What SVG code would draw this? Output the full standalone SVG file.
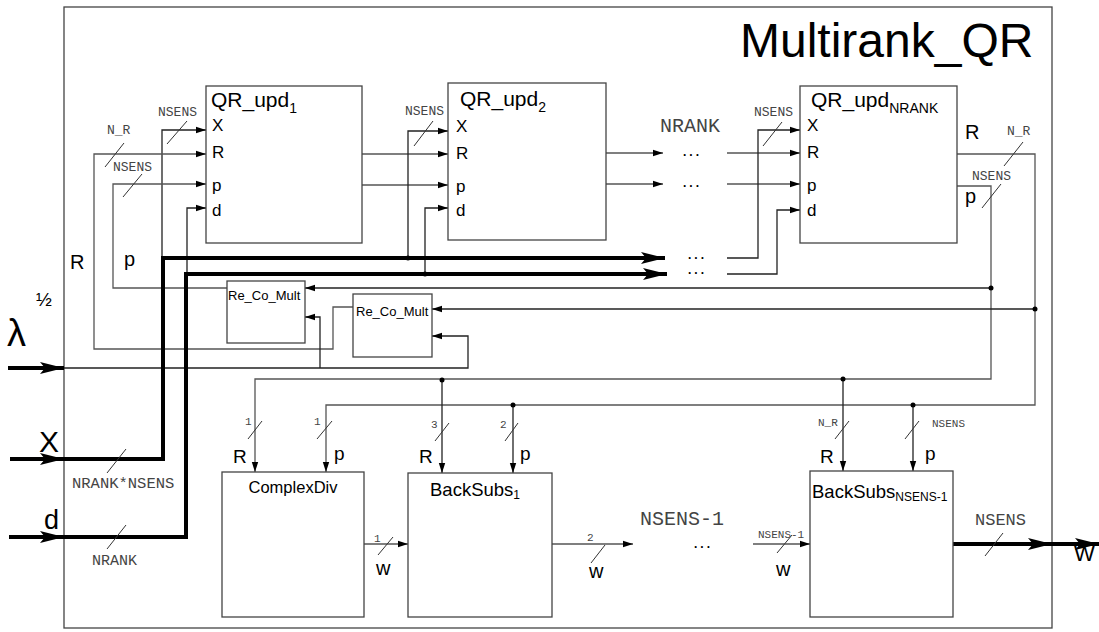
<svg xmlns="http://www.w3.org/2000/svg" width="1099" height="632" viewBox="0 0 1099 632">
<style>
.box{fill:#fff;stroke:#444;stroke-width:1.3}
.ln{fill:none;stroke:#222;stroke-width:1.3}
.lg{fill:none;stroke:#555;stroke-width:1.3}
.th{fill:none;stroke:#000;stroke-width:4}
.sl{fill:none;stroke:#333;stroke-width:1}
.s{font-family:"Liberation Sans",Arial,sans-serif;fill:#000}
.m{font-family:"Liberation Mono","Courier New",monospace;fill:#444}
.dd{font-family:"Liberation Sans",Arial,sans-serif;fill:#000;font-weight:bold;letter-spacing:3px}
.dot{fill:#000}
</style>
<defs>
<marker id="a" markerUnits="userSpaceOnUse" markerWidth="10" markerHeight="8" refX="10" refY="4" orient="auto"><path d="M0,0.8 L10,4 L0,7.2 z" fill="#000"/></marker>
<marker id="A" markerUnits="userSpaceOnUse" markerWidth="24" markerHeight="12" refX="24" refY="6" orient="auto"><path d="M0,0 L24,6 L0,12 L5,6 z" fill="#000"/></marker>
</defs>
<rect x="64" y="7" width="988" height="621" fill="#fff" stroke="#444" stroke-width="1.3"/>
<text class="s" x="740" y="57" font-size="48">Multirank_QR</text>

<g id="connectors">
<path class="ln" d="M162,258 V130 H206" marker-end="url(#a)"/>
<path class="lg" d="M353,307 H333 V349 H94 V154 H206" marker-end="url(#a)"/>
<path class="lg" d="M227,288 H113 V184 H206" marker-end="url(#a)"/>
<path class="ln" d="M187,274 V208 H206" marker-end="url(#a)"/>
<path class="lg" d="M362,154 H448" marker-end="url(#a)"/>
<path class="lg" d="M362,185 H448" marker-end="url(#a)"/>
<path class="ln" d="M408,258 V131 H448" marker-end="url(#a)"/>
<path class="ln" d="M425,274 V208 H448" marker-end="url(#a)"/>
<path class="lg" d="M606,153 H663" marker-end="url(#a)"/>
<path class="lg" d="M727,153 H800" marker-end="url(#a)"/>
<path class="lg" d="M606,184 H663" marker-end="url(#a)"/>
<path class="lg" d="M727,184 H800" marker-end="url(#a)"/>
<path class="ln" d="M727,258 H758 V130 H800" marker-end="url(#a)"/>
<path class="ln" d="M727,274 H777 V210 H800" marker-end="url(#a)"/>
<path class="lg" d="M957,154 H1035 V405 H326 V472" marker-end="url(#a)"/>
<path class="lg" d="M957,186 H991 V379 H255 V472" marker-end="url(#a)"/>
<path class="ln" d="M991,288 H305" marker-end="url(#a)"/>
<path class="ln" d="M1035,309 H432" marker-end="url(#a)"/>
<path class="ln" d="M64,368 H468 V336 H432" marker-end="url(#a)"/>
<path class="ln" d="M320,368 V317 H305" marker-end="url(#a)"/>
<path class="ln" d="M442,380 V473" marker-end="url(#a)"/>
<path class="ln" d="M513,405 V473" marker-end="url(#a)"/>
<path class="ln" d="M843,379 V471" marker-end="url(#a)"/>
<path class="ln" d="M913,405 V471" marker-end="url(#a)"/>
<path class="lg" d="M364,544 H408" marker-end="url(#a)"/>
<path class="lg" d="M552,544 H633" marker-end="url(#a)"/>
<path class="lg" d="M753,544 H810" marker-end="url(#a)"/>
<path class="th" d="M10,459 H64" marker-end="url(#A)"/>
<path class="th" d="M64,459 H163 V258 H665" marker-end="url(#A)"/>
<path class="th" d="M9,537 H64" marker-end="url(#A)"/>
<path class="th" d="M64,537 H186 V274 H667" marker-end="url(#A)"/>
<path class="th" d="M8,368 H64" marker-end="url(#A)"/>
<path class="th" d="M953,544 H1052" marker-end="url(#A)"/>
<path class="th" d="M1052,544 H1099" marker-end="url(#A)"/>
<circle class="dot" cx="408" cy="258" r="2.5"/>
<circle class="dot" cx="425" cy="274" r="2.5"/>
<circle class="dot" cx="991" cy="288" r="2.5"/>
<circle class="dot" cx="1035" cy="309" r="2.5"/>
<circle class="dot" cx="442" cy="380" r="2.5"/>
<circle class="dot" cx="513" cy="405" r="2.5"/>
<circle class="dot" cx="843" cy="379" r="2.5"/>
<circle class="dot" cx="913" cy="405" r="2.5"/>
<path class="sl" d="M167,144 L187,121 M105,167 L124,143 M123,197 L142,174 M414,146 L433,121 M763,146 L782,122 M1004,166 L1023,142 M982,208 L1001,184 M107,473 L126,449 M107,549 L126,525 M248,439 L262,421 M317,439 L332,421 M435,441 L449,423 M505,441 L518,423 M835,439 L849,421 M905,439 L919,421 M378,555 L393,537 M591,563 L605,545 M777,553 L792,535 M985,556 L1003,533"/>
<text class="m" x="158" y="116" font-size="13">NSENS</text>
<text class="m" x="107" y="134" font-size="13">N_R</text>
<text class="m" x="113" y="171" font-size="13">NSENS</text>
<text class="m" x="405" y="115" font-size="13">NSENS</text>
<text class="m" x="754" y="116" font-size="13">NSENS</text>
<text class="m" x="1007" y="135" font-size="13">N_R</text>
<text class="m" x="972" y="180" font-size="13">NSENS</text>
<text class="m" x="72" y="488" font-size="15.5">NRANK*NSENS</text>
<text class="m" x="92" y="565" font-size="15">NRANK</text>
<text class="m" x="245" y="425" font-size="11">1</text>
<text class="m" x="314" y="425" font-size="11">1</text>
<text class="m" x="431" y="428" font-size="11">3</text>
<text class="m" x="500" y="428" font-size="11">2</text>
<text class="m" x="818" y="426" font-size="11">N_R</text>
<text class="m" x="932" y="427" font-size="11">NSENS</text>
<text class="m" x="374" y="542" font-size="11">1</text>
<text class="m" x="587" y="541" font-size="11">2</text>
<text class="m" x="758" y="538" font-size="11">NSENS-1</text>
<text class="m" x="975" y="525" font-size="17">NSENS</text>
<text class="m" x="660" y="132" font-size="20">NRANK</text>
<text class="m" x="640" y="525" font-size="20">NSENS-1</text>
<text class="dd" x="683" y="156" font-size="12">...</text>
<text class="dd" x="683" y="187" font-size="12">...</text>
<text class="dd" x="688" y="259" font-size="12">...</text>
<text class="dd" x="688" y="274" font-size="12">...</text>
<text class="dd" x="694" y="548" font-size="12">...</text>
<text class="s" x="70" y="269" font-size="20">R</text>
<text class="s" x="124" y="266" font-size="20">p</text>
<text class="s" x="39" y="452" font-size="30">X</text>
<text class="s" x="44" y="529" font-size="27">d</text>
<text class="s" x="7" y="346" font-size="38">λ</text>
<text class="s" x="36" y="306" font-size="19">½</text>
<text class="s" x="965" y="139" font-size="20">R</text>
<text class="s" x="965" y="203" font-size="20">p</text>
<text class="s" x="233" y="463" font-size="19">R</text>
<text class="s" x="334" y="460" font-size="19">p</text>
<text class="s" x="419" y="463" font-size="19">R</text>
<text class="s" x="520" y="460" font-size="19">p</text>
<text class="s" x="820" y="463" font-size="19">R</text>
<text class="s" x="925" y="460" font-size="19">p</text>
<text class="s" x="376" y="575" font-size="20">w</text>
<text class="s" x="589" y="578" font-size="20">w</text>
<text class="s" x="776" y="576" font-size="20">w</text>
<text class="s" x="1074" y="561" font-size="22">W</text>
</g>

<g id="qr_upd1">
<rect class="box" x="206" y="86" width="156" height="157"/>
<text class="s" x="211" y="107" font-size="21">QR_upd<tspan font-size="14" dy="6">1</tspan></text>
<text class="s" x="212" y="131" font-size="17">X</text>
<text class="s" x="212" y="158" font-size="17">R</text>
<text class="s" x="212" y="191" font-size="17">p</text>
<text class="s" x="212" y="216" font-size="17">d</text>
</g>
<g id="qr_upd2">
<rect class="box" x="448" y="83" width="158" height="157"/>
<text class="s" x="460" y="106" font-size="21">QR_upd<tspan font-size="14" dy="6">2</tspan></text>
<text class="s" x="456" y="132" font-size="17">X</text>
<text class="s" x="456" y="159" font-size="17">R</text>
<text class="s" x="456" y="192" font-size="17">p</text>
<text class="s" x="456" y="216" font-size="17">d</text>
</g>
<g id="qr_updN">
<rect class="box" x="800" y="86" width="157" height="157"/>
<text class="s" x="811" y="107" font-size="21">QR_upd<tspan font-size="14" dy="6">NRANK</tspan></text>
<text class="s" x="807" y="131" font-size="17">X</text>
<text class="s" x="807" y="158" font-size="17">R</text>
<text class="s" x="807" y="191" font-size="17">p</text>
<text class="s" x="807" y="216" font-size="17">d</text>
</g>
<g id="re_co_mult1">
<rect class="box" x="227" y="281" width="78" height="62"/>
<text class="s" x="228" y="300" font-size="13">Re_Co_Mult</text>
</g>
<g id="re_co_mult2">
<rect class="box" x="353" y="294" width="79" height="63"/>
<text class="s" x="356" y="316" font-size="13">Re_Co_Mult</text>
</g>
<g id="complexdiv">
<rect class="box" x="222" y="472" width="142" height="145"/>
<text class="s" x="293" y="493" font-size="16.5" text-anchor="middle">ComplexDiv</text>
</g>
<g id="backsubs1">
<rect class="box" x="408" y="473" width="144" height="144"/>
<text class="s" x="430" y="496" font-size="18.5">BackSubs<tspan font-size="12" dy="3">1</tspan></text>
</g>
<g id="backsubsN">
<rect class="box" x="810" y="471" width="143" height="146"/>
<text class="s" x="812" y="498" font-size="18.5">BackSubs<tspan font-size="12" dy="3">NSENS-1</tspan></text>
</g>
</svg>
